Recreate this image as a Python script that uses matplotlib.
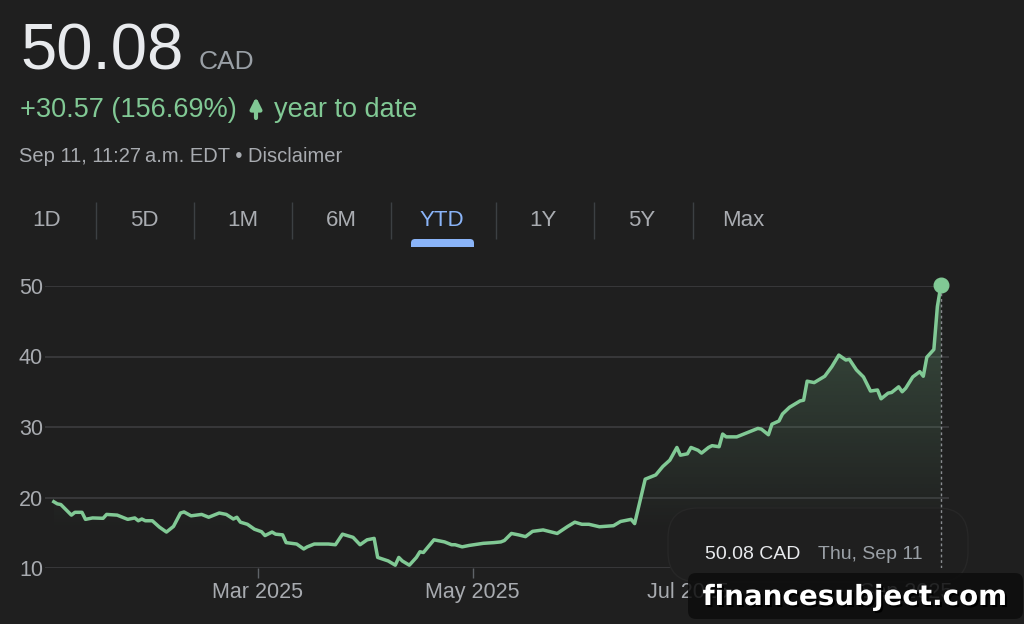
import numpy as np
import pandas as pd
import matplotlib
matplotlib.use("Agg")
import matplotlib.pyplot as plt
import matplotlib.dates as mdates
import matplotlib.patheffects as pe
from matplotlib.patches import FancyBboxPatch, Rectangle

# ---------- data ----------
dates = [
    "2025-01-02", "2025-01-03", "2025-01-04", "2025-01-06", "2025-01-07", "2025-01-08",
    "2025-01-10", "2025-01-11", "2025-01-13", "2025-01-16", "2025-01-17", "2025-01-20",
    "2025-01-23", "2025-01-25", "2025-01-26", "2025-01-27", "2025-01-28", "2025-01-30",
    "2025-02-01", "2025-02-03", "2025-02-05", "2025-02-07", "2025-02-08", "2025-02-10",
    "2025-02-13", "2025-02-15", "2025-02-18", "2025-02-20", "2025-02-22", "2025-02-23",
    "2025-02-24", "2025-02-26", "2025-02-28", "2025-03-02", "2025-03-03", "2025-03-05",
    "2025-03-06", "2025-03-08", "2025-03-09", "2025-03-12", "2025-03-14", "2025-03-15",
    "2025-03-17", "2025-03-21", "2025-03-23", "2025-03-25", "2025-03-28", "2025-03-30",
    "2025-04-01", "2025-04-03", "2025-04-04", "2025-04-07", "2025-04-09", "2025-04-10",
    "2025-04-11", "2025-04-13", "2025-04-15", "2025-04-16", "2025-04-17", "2025-04-20",
    "2025-04-23", "2025-04-25", "2025-04-26", "2025-04-28", "2025-04-30", "2025-05-04",
    "2025-05-07", "2025-05-09", "2025-05-10", "2025-05-12", "2025-05-14", "2025-05-16",
    "2025-05-18", "2025-05-21", "2025-05-25", "2025-05-28", "2025-05-30", "2025-06-01",
    "2025-06-03", "2025-06-06", "2025-06-10", "2025-06-12", "2025-06-15", "2025-06-16",
    "2025-06-19", "2025-06-22", "2025-06-24", "2025-06-26", "2025-06-28", "2025-06-29",
    "2025-07-01", "2025-07-02", "2025-07-04", "2025-07-05", "2025-07-07", "2025-07-08",
    "2025-07-10", "2025-07-11", "2025-07-12", "2025-07-15", "2025-07-17", "2025-07-21",
    "2025-07-22", "2025-07-24", "2025-07-25", "2025-07-27", "2025-07-28", "2025-07-30",
    "2025-08-02", "2025-08-03", "2025-08-04", "2025-08-06", "2025-08-09", "2025-08-11",
    "2025-08-13", "2025-08-15", "2025-08-16", "2025-08-18", "2025-08-20", "2025-08-22",
    "2025-08-24", "2025-08-25", "2025-08-27", "2025-08-28", "2025-08-30", "2025-08-31",
    "2025-09-01", "2025-09-03", "2025-09-05", "2025-09-06", "2025-09-07", "2025-09-09",
    "2025-09-10", "2025-09-11",
]
prices = [
    19.4, 19.1, 19.0, 18.0, 17.5, 17.9,
    17.9, 16.9, 17.1, 17.05, 17.6, 17.5,
    16.9, 17.1, 16.7, 16.95, 16.7, 16.7,
    15.8, 15.1, 15.9, 17.8, 17.95, 17.4,
    17.6, 17.2, 17.8, 17.6, 16.95, 17.2,
    16.5, 16.2, 15.5, 15.15, 14.6, 15.1,
    14.8, 14.7, 13.6, 13.4, 12.7, 13.0,
    13.4, 13.4, 13.3, 14.8, 14.35, 13.3,
    14.0, 14.2, 11.5, 11.0, 10.4, 11.5,
    11.0, 10.4, 11.5, 12.3, 12.2, 14.0,
    13.7, 13.3, 13.3, 13.0, 13.2, 13.5,
    13.6, 13.7, 13.9, 14.9, 14.7, 14.45,
    15.2, 15.4, 14.9, 15.9, 16.5, 16.2,
    16.2, 15.85, 16.0, 16.6, 16.9, 16.3,
    22.6, 23.2, 24.4, 25.3, 27.1, 26.0,
    26.2, 27.1, 26.7, 26.3, 27.1, 27.35,
    27.2, 29.0, 28.6, 28.6, 29.0, 29.8,
    29.7, 28.9, 30.4, 30.85, 31.85, 32.8,
    33.7, 33.8, 36.5, 36.3, 37.2, 38.55,
    40.2, 39.5, 39.6, 38.1, 37.1, 35.1,
    35.25, 34.0, 34.8, 34.9, 35.7, 35.0,
    35.5, 37.1, 37.85, 37.2, 39.9, 41.0,
    47.1, 50.08,
]
y_ticks = [10, 20, 30, 40, 50]
x_ticks = ["2025-03-01", "2025-05-01", "2025-07-01", "2025-09-01"]
tabs = ["1D", "5D", "1M", "6M", "YTD", "1Y", "5Y", "Max"]
active_tab = "YTD"

# ---------- style ----------
BG = "#1f1f1f"
GREEN = "#81c995"
GREY = "#9aa0a6"
LIGHT = "#e8eaed"
BLUE = "#8ab4f8"
GRID = "#3c3d3f"

plt.rcParams['font.family'] = ['Liberation Sans', 'DejaVu Sans']

W, H = 1024, 624
fig = plt.figure(figsize=(W / 100, H / 100), dpi=100, facecolor=BG)

# pixel overlay for header / tabs (y down)
bg_ax = fig.add_axes([0, 0, 1, 1], zorder=0)
bg_ax.set_xlim(0, W)
bg_ax.set_ylim(H, 0)
bg_ax.axis("off")

# chart axes
ax = fig.add_axes([45 / W, (H - 568) / H, (949 - 45) / W, (568 - 286) / H], zorder=1)
ax.set_facecolor("none")

x = mdates.date2num(pd.to_datetime(dates))
y = np.array(prices)

ax.set_xlim(x[0] - 2.5, x[-1] + 2.3)
ax.set_ylim(10, 50)

# gradient fill under the line
fill = ax.fill_between(x, y, 10, color="none", lw=0)
levels = np.linspace(10, 50, 256)
alpha = np.clip((levels - 15) / 35, 0, 1) * 0.28
rgba = np.zeros((256, 1, 4))
rgba[..., 0], rgba[..., 1], rgba[..., 2] = 129 / 255, 201 / 255, 149 / 255
rgba[:, 0, 3] = alpha
im = ax.imshow(rgba, extent=[x[0], x[-1], 10, 50], origin="lower",
               aspect="auto", zorder=2, interpolation="bilinear")
im.set_clip_path(fill.get_paths()[0], transform=ax.transData)

ax.plot(x, y, color=GREEN, lw=2.5, solid_joinstyle="round", zorder=4)
ax.plot([x[-1], x[-1]], [10, y[-1]], color="#8a8d91", lw=1, ls=(0, (2, 2)), zorder=5)
ax.plot(x[-1], y[-1], "o", ms=10.5, color=GREEN, clip_on=False, zorder=6)

# axes cosmetics
for s in ax.spines.values():
    s.set_visible(False)
ax.set_yticks(y_ticks)
ax.yaxis.grid(True, color=GRID, lw=1.2)
ax.set_axisbelow(True)
ax.tick_params(axis="y", length=0, pad=1.5, labelsize=15.5, labelcolor="#a8abb0")
ax.set_xticks(mdates.date2num(pd.to_datetime(x_ticks)))
ax.xaxis.set_major_formatter(mdates.DateFormatter("%b %Y"))
ax.tick_params(axis="x", length=7, width=1, color="#5f6368", pad=3,
               labelsize=15.5, labelcolor="#a8abb0")

# tooltip box
tip = FancyBboxPatch((668, 508), 300, 74, boxstyle="round,pad=0,rounding_size=30",
                     fc=BG, ec="#272727", lw=1, transform=bg_ax.transData,
                     clip_on=False, zorder=3)
ax.add_patch(tip)
ax.text(705, 559, "50.08 CAD", color=LIGHT, fontsize=14, va="baseline",
        transform=bg_ax.transData, zorder=7)
ax.text(818, 559, "Thu, Sep 11", color=GREY, fontsize=14, va="baseline",
        transform=bg_ax.transData, zorder=7)

# ---------- header ----------
bg_ax.text(20, 70, "50.08", color=LIGHT, fontsize=47, va="baseline")
bg_ax.text(199, 69, "CAD", color=GREY, fontsize=19, va="baseline")
bg_ax.text(20, 117, "+30.57 (156.69%)", color=GREEN, fontsize=19.5, va="baseline")
bg_ax.annotate("", xy=(256, 97), xytext=(256, 118),
               arrowprops=dict(arrowstyle="-|>", color=GREEN, lw=3,
                               mutation_scale=16, shrinkA=0, shrinkB=0))
bg_ax.text(274, 117, "year to date", color=GREEN, fontsize=19.5, va="baseline")
bg_ax.text(19, 162, "Sep 11, 11:27\u2009a.m. EDT \u2022 Disclaimer", color="#a8abb0",
           fontsize=14.5, va="baseline")

# ---------- range tabs ----------
tab_x = [47, 144, 243, 341, 442, 543, 642, 743]
for tx, lab in zip(tab_x, tabs):
    bg_ax.text(tx, 220, lab, color=BLUE if lab == active_tab else "#a9acb1",
               fontsize=16, ha="center", va="center")
bg_ax.vlines([96, 194, 292, 391, 496, 594, 693], 202, 239, color="#3c4043", lw=1)
bg_ax.add_patch(FancyBboxPatch((411, 239), 63, 12, boxstyle="round,pad=0,rounding_size=4",
                               fc=BLUE, ec="none"))
bg_ax.add_patch(Rectangle((405, 247), 75, 8, fc=BG, ec="none"))

# ---------- watermark ----------
top_ax = fig.add_axes([0, 0, 1, 1], zorder=5)
top_ax.set_xlim(0, W)
top_ax.set_ylim(H, 0)
top_ax.axis("off")
top_ax.add_patch(FancyBboxPatch((688, 573), 335, 46, boxstyle="round,pad=0,rounding_size=8",
                                fc="#0d0d0d", ec="none", alpha=0.85))
top_ax.text(855, 597, "financesubject.com", color="white", fontsize=20,
            family="DejaVu Sans", fontweight="bold", ha="center", va="center",
            path_effects=[pe.withSimplePatchShadow(offset=(1.5, -1.5),
                                                   shadow_rgbFace="black", alpha=1)])

fig.savefig("out.png", dpi=100, facecolor=BG)
